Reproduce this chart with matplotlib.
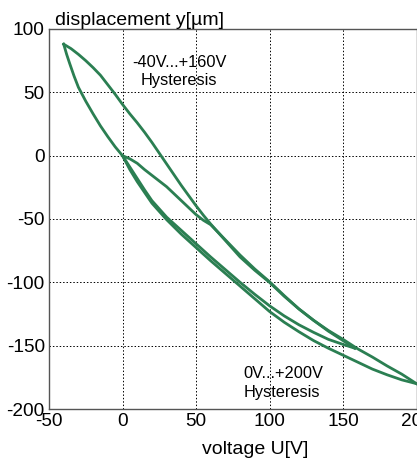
import matplotlib
matplotlib.use("Agg")
import matplotlib.pyplot as plt

plt.rcParams['font.family'] = ['Liberation Sans', 'DejaVu Sans']
plt.rcParams['axes.unicode_minus'] = False

# loop 1: -40V ... +160V
loop1_upper_u = [-40, -35, -30, -25, -20, -15, -10, -5, 0, 5, 10, 15, 20, 25, 30, 35, 40, 45, 50,
                 55, 60, 70, 80, 90, 100, 110, 120, 130, 140, 150, 158]
loop1_upper_y = [88, 84.5, 80, 75, 69.5, 63.5, 56, 48.5, 40.5, 33, 26, 18.5, 10.5, 2, -6.5, -15, -23.5, -31.5, -39.5,
                 -47, -54, -67, -80, -90.5, -100, -111, -121, -130, -138.5, -146, -152]
loop1_lower_u = [-40, -38, -36, -33, -30, -25, -20, -15, -10, -5, 0, 5, 10, 15, 20, 30, 40, 50,
                 60, 70, 80, 90, 100, 110, 120, 130, 140, 150, 158]
loop1_lower_y = [88, 80, 73, 63, 54, 43, 33, 23.5, 15, 7, 0, -9, -18, -27, -35.5, -48.5, -59, -69.5,
                 -80, -90, -100, -109.5, -118.5, -126.5, -133.5, -139.5, -145, -149, -152]

# loop 2: 0V ... +200V
loop2_up_u = [0, 5, 10, 15, 20, 25, 30, 35, 40, 45, 50, 55, 60, 70, 80, 90, 100, 110, 120,
              130, 140, 150, 160, 170, 180, 190, 200]
loop2_up_y = [0, -2.5, -6, -11, -15.5, -20, -24.5, -30, -35.5, -41, -46.5, -51, -54.5, -66.5, -78.5, -89.5, -99.5, -110.5, -121,
              -130, -138, -145, -152.5, -159, -166, -172.5, -180]
loop2_ret_u = [200, 190, 180, 170, 160, 150, 140, 130, 120, 110, 100, 90, 80, 70, 60, 50, 40, 30, 20,
               15, 10, 5, 0]
loop2_ret_y = [-180, -177, -173, -168.5, -163, -157.5, -152, -146, -139, -131.5, -123, -113, -103, -93, -83, -72.5, -62, -50.5, -37.5,
               -29, -20.5, -11, 0]

green = '#2b7f52'

fig = plt.figure(figsize=(4.17, 4.59), dpi=100)
ax = fig.add_axes([49 / 417, 50 / 459, 367.5 / 417, 380 / 459])

ax.plot(loop1_upper_u, loop1_upper_y, color=green, lw=2.0)
ax.plot(loop1_lower_u, loop1_lower_y, color=green, lw=2.0)
ax.plot(loop2_up_u, loop2_up_y, color=green, lw=2.0)
ax.plot(loop2_ret_u, loop2_ret_y, color=green, lw=2.0)

ax.set_xlim(-50, 200)
ax.set_ylim(-200, 100)
ax.set_xticks([-50, 0, 50, 100, 150, 200])
ax.set_yticks([-200, -150, -100, -50, 0, 50, 100])
ax.grid(True, color='black', linestyle=(0, (1.5, 2)), linewidth=0.7)
ax.tick_params(length=0, labelsize=13.7, pad=3)
for s in ax.spines.values():
    s.set_color('#555555')
    s.set_linewidth(1.0)

# annotations
ax.text(38.5, 70.3, '-40V...+160V', ha='center', va='baseline', fontsize=11.8)
ax.text(38.5, 55.8, 'Hysteresis', ha='center', va='baseline', fontsize=11.8)
ax.text(82.3, -175.5, '0V...+200V', ha='left', va='baseline', fontsize=11.8)
ax.text(82.3, -190.3, 'Hysteresis', ha='left', va='baseline', fontsize=11.8)

fig.text(55 / 417, 1 - 25 / 459, 'displacement y[\u00b5m]', ha='left', va='baseline', fontsize=14)
fig.text(254.8 / 417, 1 - 454.5 / 459, 'voltage U[V]', ha='center', va='baseline', fontsize=14)

fig.savefig('out.png', dpi=100)
